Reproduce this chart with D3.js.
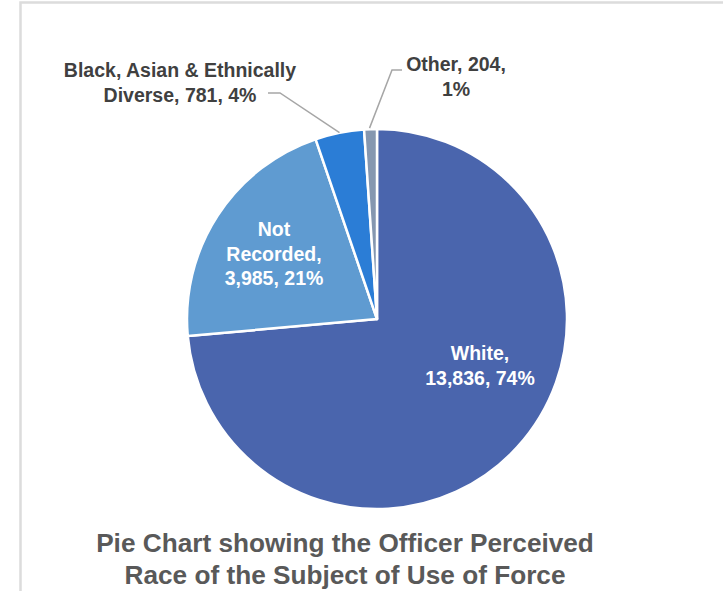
<!DOCTYPE html>
<html>
<head>
<meta charset="utf-8">
<script src="https://cdn.jsdelivr.net/npm/d3@7"></script>
<style>
  html, body { margin: 0; padding: 0; background: #ffffff; }
  svg { display: block; }
</style>
</head>
<body>
<div id="chart"></div>
<script>
// ---- data ----
const categories = ["White", "Not Recorded", "Black, Asian & Ethnically Diverse", "Other"];
const counts = [13836, 3985, 781, 204];
const percents = ["74%", "21%", "4%", "1%"];
const colors = ["#4a65ad", "#5f9bd1", "#2b7dd6", "#8597b0"];
const titleLines = ["Pie Chart showing the Officer Perceived", "Race of the Subject of Use of Force"];

// ---- layout ----
const W = 723, H = 591;
const cx = 377, cy = 319, R = 190;
const fmt = d3.format(",");
const FONT = "'Liberation Sans', Arial, sans-serif";

const svg = d3.select("#chart").append("svg")
  .attr("width", W).attr("height", H);

// frame
svg.append("rect")
  .attr("x", 20.5).attr("y", 2.5)
  .attr("width", 800).attr("height", 700)
  .attr("fill", "none")
  .attr("stroke", "#dcdcdc")
  .attr("stroke-width", 2.5);

const data = categories.map((c, i) => ({ name: c, value: counts[i], pct: percents[i], color: colors[i] }));

const pie = d3.pie().sort(null).value(d => d.value).startAngle(0).endAngle(2 * Math.PI);
const arcs = pie(data);
const arc = d3.arc().innerRadius(0).outerRadius(R);

const g = svg.append("g").attr("transform", `translate(${cx},${cy})`);

g.selectAll("path.slice")
  .data(arcs)
  .join("path")
  .attr("class", "slice")
  .attr("d", arc)
  .attr("fill", d => d.data.color)
  .attr("stroke", "#ffffff")
  .attr("stroke-width", 2.5)
  .attr("stroke-linejoin", "round");

// label text lines (built from the data)
function labelLines(d) {
  const n = d.data.name, v = fmt(d.data.value), p = d.data.pct;
  if (n === "White") return [n + ",", v + ", " + p];
  if (n === "Not Recorded") return ["Not", "Recorded,", v + ", " + p];
  if (n === "Other") return [n + ", " + v + ",", p];
  return ["Black, Asian & Ethnically", "Diverse, " + v + ", " + p];
}

// label anchor positions (layout, relative to pie centre)
const labelPos = {
  "White": { x: 103, y: 41, inside: true },
  "Not Recorded": { x: -103, y: -83, inside: true },
  "Black, Asian & Ethnically Diverse": { x: -197, y: -242, inside: false },
  "Other": { x: 79, y: -248, inside: false }
};
const lineGap = 24.5;

arcs.forEach(d => {
  const pos = labelPos[d.data.name];
  const lines = labelLines(d);
  const t = g.append("text")
    .attr("text-anchor", "middle")
    .attr("font-family", FONT)
    .attr("font-weight", "bold")
    .attr("font-size", 19.5)
    .attr("fill", pos.inside ? "#ffffff" : "#404040");
  lines.forEach((ln, i) => {
    t.append("tspan").attr("x", pos.x).attr("y", pos.y + i * lineGap).text(ln);
  });
});

// leader lines for outside labels
const rim = d3.arc().innerRadius(R).outerRadius(R);
const leaderStyle = sel => sel.attr("fill", "none").attr("stroke", "#a6a6a6").attr("stroke-width", 1.5);

const bae = arcs[2];
const bc = rim.centroid(bae);
g.append("path").call(leaderStyle)
  .attr("d", d3.line()([[-109, -226], [-97, -226], [bc[0], bc[1]]]));

const oth = arcs[3];
const oc = rim.centroid(oth);
g.append("path").call(leaderStyle)
  .attr("d", d3.line()([[oc[0] - 1, oc[1] - 1], [15, -249], [25, -249]]));

// title
const title = svg.append("text")
  .attr("text-anchor", "middle")
  .attr("font-family", FONT)
  .attr("font-weight", "bold")
  .attr("font-size", 26.2)
  .attr("fill", "#595959");
titleLines.forEach((ln, i) => {
  title.append("tspan").attr("x", 345).attr("y", 552 + i * 31.5).text(ln);
});
</script>
</body>
</html>
